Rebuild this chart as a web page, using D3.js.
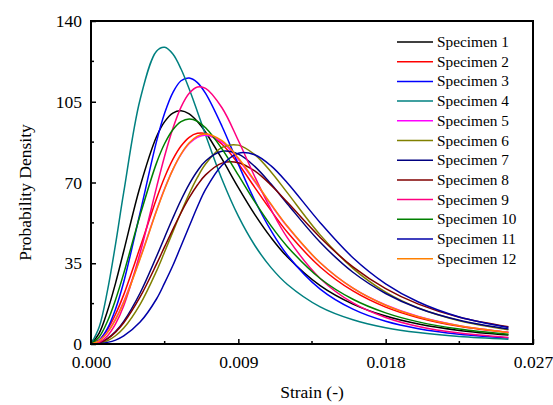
<!DOCTYPE html>
<html><head><meta charset="utf-8">
<script src="https://cdn.jsdelivr.net/npm/d3@7"></script>
<style>body{margin:0;background:#fff}svg{display:block}</style>
</head><body><svg id="c" width="553" height="405"></svg>
<script>
const strain = [0,0.0005,0.001,0.0015,0.002,0.003,0.004,0.0045,0.005,0.0055,0.006,0.0065,0.007,0.008,0.009,0.010,0.011,0.012,0.014,0.016,0.018,0.020,0.0225,0.0255];
const specimens = ["Specimen 1","Specimen 2","Specimen 3","Specimen 4","Specimen 5","Specimen 6","Specimen 7","Specimen 8","Specimen 9","Specimen 10","Specimen 11","Specimen 12"];
const colors = ["#000000","#ff0000","#0000ff","#008080","#ff00ff","#808000","#000080","#800000","#ff0080","#008000","#0000a8","#ff8000"];
const s1  = [0,4.75,14.2,26.4,40.3,68.3,89.8,96.4,100.1,101.1,99.7,96.4,91.8,80.2,67.8,56.2,46.1,37.7,25.3,17.3,12.1,8.67,5.90,3.88];
const s2  = [0,1.78,6.25,12.9,21.4,41.9,63.0,72.3,80.0,85.8,89.6,91.3,91.2,86.6,78.1,67.9,57.8,48.4,33.4,23.0,16.0,11.4,7.65,4.94];
const s3  = [0,1.59,6.64,15.2,26.9,56.9,87.7,100.1,109.0,114.1,115.3,113.3,108.6,94.4,77.9,62.3,49.1,38.5,23.8,15.1,9.84,6.64,4.23,2.60];
const s4  = [0,7.38,22.9,43.3,65.8,106.0,126.9,128.6,125.7,119.2,110.5,100.7,90.6,71.4,55.4,42.8,33.1,25.8,16.1,10.5,7.08,4.94,3.28,2.11];
const s5  = [0,1.39,5.11,10.9,18.4,37.3,57.9,67.4,75.6,82.2,86.9,89.6,90.5,87.5,80.0,70.4,60.3,50.8,35.2,24.2,16.9,11.9,7.96,5.10];
const s6  = [0,0.28,1.41,3.58,6.90,17.2,31.6,40.0,48.6,57.1,65.1,72.2,78.0,85.2,86.2,82.1,74.6,65.5,47.3,32.8,22.5,15.6,10.1,6.19];
const s7  = [0,0.55,2.34,5.42,9.81,22.1,37.9,46.3,54.6,62.4,69.3,75.0,79.3,83.5,82.3,77.0,69.3,60.7,44.1,31.1,21.9,15.5,10.3,6.48];
const s8  = [0,0.56,2.27,5.16,9.21,20.4,34.6,42.2,49.7,56.9,63.4,68.9,73.3,78.4,78.6,75.0,68.8,61.4,46.2,33.4,24.0,17.3,11.6,7.46];
const s9  = [0,0.72,3.49,8.73,16.6,39.5,67.8,81.5,93.4,102.7,108.7,111.4,110.8,102.4,88.2,72.6,58.2,46.0,28.4,17.8,11.5,7.59,4.73,2.84];
const s10 = [0,3.00,9.74,19.2,30.6,55.8,78.4,86.9,92.9,96.4,97.5,96.5,93.7,84.6,73.2,61.7,51.2,42.2,28.4,19.4,13.5,9.59,6.46,4.20];
const s11 = [0,0.15,0.7,1.7,3.5,9.5,19.5,26.5,34.0,42.5,51.0,59.5,67.0,77.5,82.7,82.0,77.2,69.8,52.6,37.4,26.1,18.2,11.7,7.18];
const s12 = [0,1.33,4.94,10.6,18.0,36.9,57.6,67.2,75.6,82.3,87.2,90.1,91.0,88.1,80.6,70.8,60.6,51.0,35.2,24.2,16.8,11.8,7.88,5.03];
const series = [s1,s2,s3,s4,s5,s6,s7,s8,s9,s10,s11,s12];
const xTicks = [0,0.009,0.018,0.027];
const yTicks = [0,35,70,105,140];

const FONT = "'Liberation Serif','Tinos','Times New Roman','DejaVu Serif',serif";
const svg = d3.select("#c");
const L=91,R=533,T=21,B=344;
const x = d3.scaleLinear().domain([0,0.027]).range([L,R]);
const y = d3.scaleLinear().domain([0,140]).range([B,T]);

const line = d3.line().x((d,i)=>x(strain[i])).y(d=>y(d)).curve(d3.curveCatmullRom.alpha(0.5));
series.forEach((s,k)=>{
  svg.append("path").attr("d",line(s)).attr("fill","none").attr("stroke",colors[k]).attr("stroke-width",1.5);
});

const xa = svg.append("g").attr("transform",`translate(0,${B})`)
  .call(d3.axisBottom(x).tickValues(xTicks).tickFormat(d3.format(".3f")).tickSizeInner(-5).tickSizeOuter(0).tickPadding(12));
const ya = svg.append("g").attr("transform",`translate(${L},0)`)
  .call(d3.axisLeft(y).tickValues(yTicks).tickFormat(d3.format("d")).tickSizeInner(-5).tickSizeOuter(0).tickPadding(9));
[xa,ya].forEach(g=>{g.attr("font-family",null).attr("font-size",null);g.select(".domain").remove();g.selectAll("line").attr("stroke","#000").attr("stroke-width",1.5);g.selectAll("text").attr("font-family",FONT).attr("font-size","17.5px").attr("fill","#000");});
svg.append("g").selectAll("line").data([0.0045,0.0135,0.0225]).join("line")
  .attr("x1",d=>x(d)).attr("x2",d=>x(d)).attr("y1",B).attr("y2",B-3).attr("stroke","#000").attr("stroke-width",1.5);
svg.append("g").selectAll("line").data([17.5,52.5,87.5,122.5]).join("line")
  .attr("y1",d=>y(d)).attr("y2",d=>y(d)).attr("x1",L).attr("x2",L+3).attr("stroke","#000").attr("stroke-width",1.5);
svg.append("rect").attr("x",L).attr("y",T).attr("width",R-L).attr("height",B-T).attr("fill","none").attr("stroke","#000").attr("stroke-width",2);

svg.append("text").attr("x",(L+R)/2).attr("y",398).attr("text-anchor","middle").attr("font-family",FONT).attr("font-size","17.5px").text("Strain (-)");
svg.append("text").attr("transform",`translate(31,${(T+B)/2+10}) rotate(-90)`).attr("text-anchor","middle").attr("font-family",FONT).attr("font-size","17.5px").text("Probability Density");

const lg = svg.append("g");
specimens.forEach((n,k)=>{
  const yy = 42 + k*19.7;
  lg.append("line").attr("x1",397).attr("x2",433).attr("y1",yy).attr("y2",yy).attr("stroke",colors[k]).attr("stroke-width",1.5);
  lg.append("text").attr("x",437).attr("y",yy+5).attr("font-family",FONT).attr("font-size","15.3px").text(n);
});
</script></body></html>
